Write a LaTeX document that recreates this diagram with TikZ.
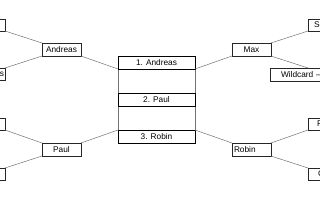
\documentclass[tikz,border=0pt]{standalone}
\usepackage{fontspec}
\setmainfont{Liberation Sans}
\usepackage{tikz}
\usetikzlibrary{positioning}

\begin{document}
\begin{tikzpicture}[
	  x=1pt, y=-1pt,
	  every node/.style = {shape=rectangle, draw, inner sep=0pt, outer sep=0pt, font=\fontsize{8.3}{10}\selectfont},
	  player/.style = {minimum width=39pt, minimum height=13pt, anchor=north west, draw=black!85},
	  leaf/.style = {minimum width=39pt, minimum height=12pt, anchor=north west, draw=black!85},
	  rank/.style = {minimum width=77pt, minimum height=13pt, anchor=north west, line width=0.9pt},
	  wire/.style = {draw=black!55, line width=0.5pt}
	]
	  \useasboundingbox (0,0) rectangle (320,200);
	  \clip (0,0) rectangle (320,200);
	  \fill[white] (0,0) rectangle (320,200);

	  % centre: ranking
	  \draw[wire] (118,56) rectangle (195,143);
	  \node[rank] (one) at (118,56) {1. Andreas};
	  \node[rank] (two) at (118,93) {2. Paul};
	  \node[rank] (three) at (118,130) {3. Robin};

	  % left side
	  \node[player] (andreas) at (42,43) {Andreas};
	  \node[player] (paul) at (42,143) {Paul};
	  \node[leaf] (l1) at (-34,19) {};
	  \node[leaf, text width=37pt, align=right] (l2) at (-34,68) {s};
	  \node[leaf] (l3) at (-34,118) {};
	  \node[leaf] (l4) at (-34,168) {};

	  % right side
	  \node[player] (max) at (232,43) {Max};
	  \node[player, text width=35pt, align=left] (robin) at (232,143) {Robin};
	  \node[leaf, text width=35pt, align=left] (r1) at (308,19) {\hspace{4pt}Se};
	  \node[leaf, minimum width=80pt, minimum height=13pt, text width=72pt, align=left] (wild) at (270,68) {\hspace{7pt}Wildcard --};
	  \node[leaf, text width=35pt, align=left] (r3) at (308,118) {\hspace{7pt}R};
	  \node[leaf, text width=35pt, align=left] (r4) at (308,168) {\hspace{8pt}C};

	  % connectors
	  \draw[wire] (l1.south east) -- (andreas.north west);
	  \draw[wire] (l2.north east) -- (andreas.south west);
	  \draw[wire] (l3.south east) -- (paul.north west);
	  \draw[wire] (l4.north east) -- (paul.south west);
	  \draw[wire] (andreas.south east) -- (one.south west);
	  \draw[wire] (paul.north east) -- (three.north west);
	  \draw[wire] (max.south west) -- (one.south east);
	  \draw[wire] (robin.north west) -- (three.north east);
	  \draw[wire] (max.north east) -- (r1.south west);
	  \draw[wire] (max.south east) -- ([xshift=38pt]wild.north west);
	  \draw[wire] (robin.north east) -- (r3.south west);
	  \draw[wire] (robin.south east) -- (r4.north west);
	\end{tikzpicture}
\end{document}
